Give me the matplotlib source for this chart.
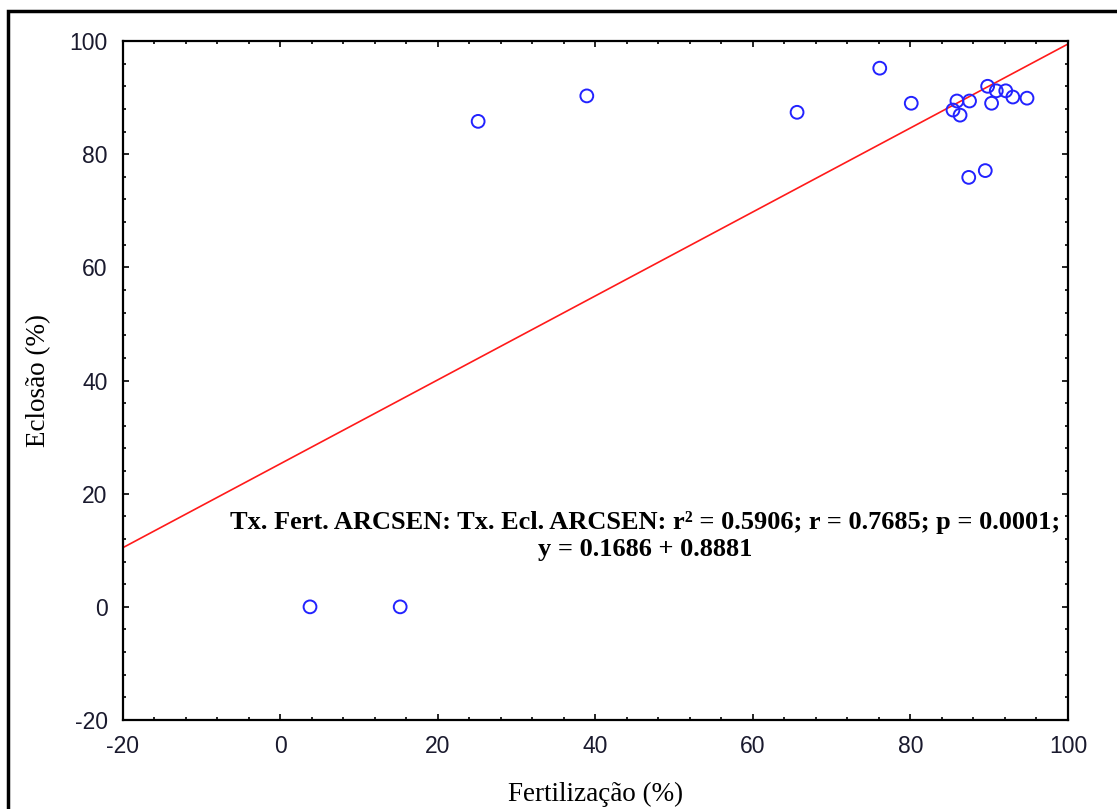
import matplotlib.pyplot as plt
from matplotlib.patches import Rectangle
from matplotlib.ticker import MultipleLocator
import numpy as np

plt.rcParams["axes.unicode_minus"] = False

# ---------- DATA ----------
fertilizacao = [3.75, 15.2, 25.1, 38.9, 65.6, 76.1, 80.1, 85.9, 85.4, 86.3,
                87.5, 89.8, 90.9, 90.3, 92.1, 93.0, 94.8, 87.4, 89.5]
eclosao = [0.0, 0.0, 85.8, 90.3, 87.4, 95.2, 89.0, 89.4, 87.8, 86.9,
           89.4, 92.0, 91.2, 89.0, 91.2, 90.1, 89.9, 75.9, 77.1]

fit_intercept = 25.3
fit_slope = 0.7417
x_limits = [-20, 100]
y_limits = [-20, 100]

stats_text = ("Tx. Fert. ARCSEN: Tx. Ecl. ARCSEN: r\u00b2 = 0.5906; r = 0.7685; p = 0.0001;\n"
              "y = 0.1686 + 0.8881")

# ---------- PLOT ----------
fig = plt.figure(figsize=(11.17, 8.09), dpi=100)
ax = fig.add_axes([0.1101, 0.11, 0.846, 0.8393])

xs = np.array(x_limits, dtype=float)
ax.plot(xs, fit_intercept + fit_slope * xs, color="#ff1a1a", lw=1.2, zorder=2)
ax.scatter(fertilizacao, eclosao, s=85, facecolors="none", edgecolors="#2222ff",
           linewidths=1.4, zorder=3)

ax.set_xlim(x_limits)
ax.set_ylim(y_limits)
ax.xaxis.set_major_locator(MultipleLocator(20))
ax.yaxis.set_major_locator(MultipleLocator(20))
ax.xaxis.set_minor_locator(MultipleLocator(4))
ax.yaxis.set_minor_locator(MultipleLocator(4))
ax.tick_params(which="both", direction="in", top=True, right=True, width=1.2)
ax.tick_params(which="major", length=4, pad=11, labelsize=16.5,
               labelcolor="#1a1a2e")
ax.tick_params(which="minor", length=2.2)
for lab in ax.get_xticklabels() + ax.get_yticklabels():
    lab.set_family("Liberation Sans")
for sp in ax.spines.values():
    sp.set_linewidth(1.6)

ax.set_xlabel("Fertilização (%)", family="Liberation Serif", fontsize=19.5, labelpad=17)
ax.set_ylabel("Eclosão (%)", family="Liberation Serif", fontsize=19.5, labelpad=13)

ax.text(645 / 1117, 1 - 536 / 809, stats_text, transform=fig.transFigure,
        ha="center", va="center", family="Liberation Serif", fontweight="bold",
        fontsize=19, linespacing=1.2)

# outer frame
fig.patches.append(Rectangle((8 / 1117, -0.2), 1.2, 1.2 - 11 / 809,
                             transform=fig.transFigure, fill=False,
                             edgecolor="black", lw=2.5))

fig.savefig("out.png", dpi=100)
